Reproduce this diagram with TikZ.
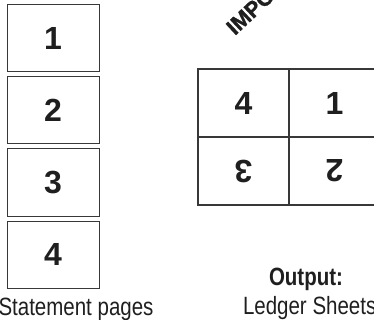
\documentclass[tikz,border=0pt]{standalone}
\usepackage{fontspec}
\setmainfont{Liberation Sans}
\newfontfamily\narrowfont[FakeStretch=0.82]{Liberation Sans}
\newfontfamily\heavyfont[FakeBold=1.2]{Liberation Sans}
\usetikzlibrary{positioning}

\begin{document}
\begin{tikzpicture}[x=1pt, y=-1pt
		,every node/.append style={inner sep=0pt, outer sep=0pt, text=black!88}
		,pg/.style={draw=black!78, line width=1pt, minimum width=92pt, minimum height=67pt, font=\fontsize{32}{32}\selectfont\bfseries}
		,cell/.style={draw=black!78, line width=1.2pt, minimum width=91pt, minimum height=68pt, font=\fontsize{32}{32}\selectfont\bfseries}
		,lbl/.style={font=\narrowfont\fontsize{25}{25}\selectfont}
		,node distance=5pt
	]
		\useasboundingbox (0,0) rectangle (374,320);
		\clip (0,0) rectangle (374,320);
		% statement pages
		\node [pg] (P1) at (53,38.5) {1};
		\node [pg, below=of P1] (P2) {2};
		\node [pg, below=of P2] (P3) {3};
		\node [pg, below=of P3] (P4) {4};
		\node [lbl, anchor=base] (SP) at (76,315) {Statement pages};
		% ledger sheet
		\node [cell] (C4) at (243.5,103) {4};
		\node [cell, right=0pt of C4] (C1) {1};
		\node [cell, below=0pt of C4] (C3) {\rotatebox{180}{3}};
		\node [cell, right=0pt of C3] (C2) {\rotatebox{180}{2}};
		\node [lbl, anchor=base, font=\narrowfont\fontsize{25}{25}\selectfont\bfseries] (OUT) at (306,285) {Output:};
		\node [lbl, anchor=base west] (LS) at (243,314) {Ledger Sheets};
		% title, mostly off the top
		\node [anchor=base west, rotate=43, font=\heavyfont\fontsize{22}{22}\selectfont\bfseries] (IMP) at (235,36) {IMPOSITION};
	\end{tikzpicture}
\end{document}
